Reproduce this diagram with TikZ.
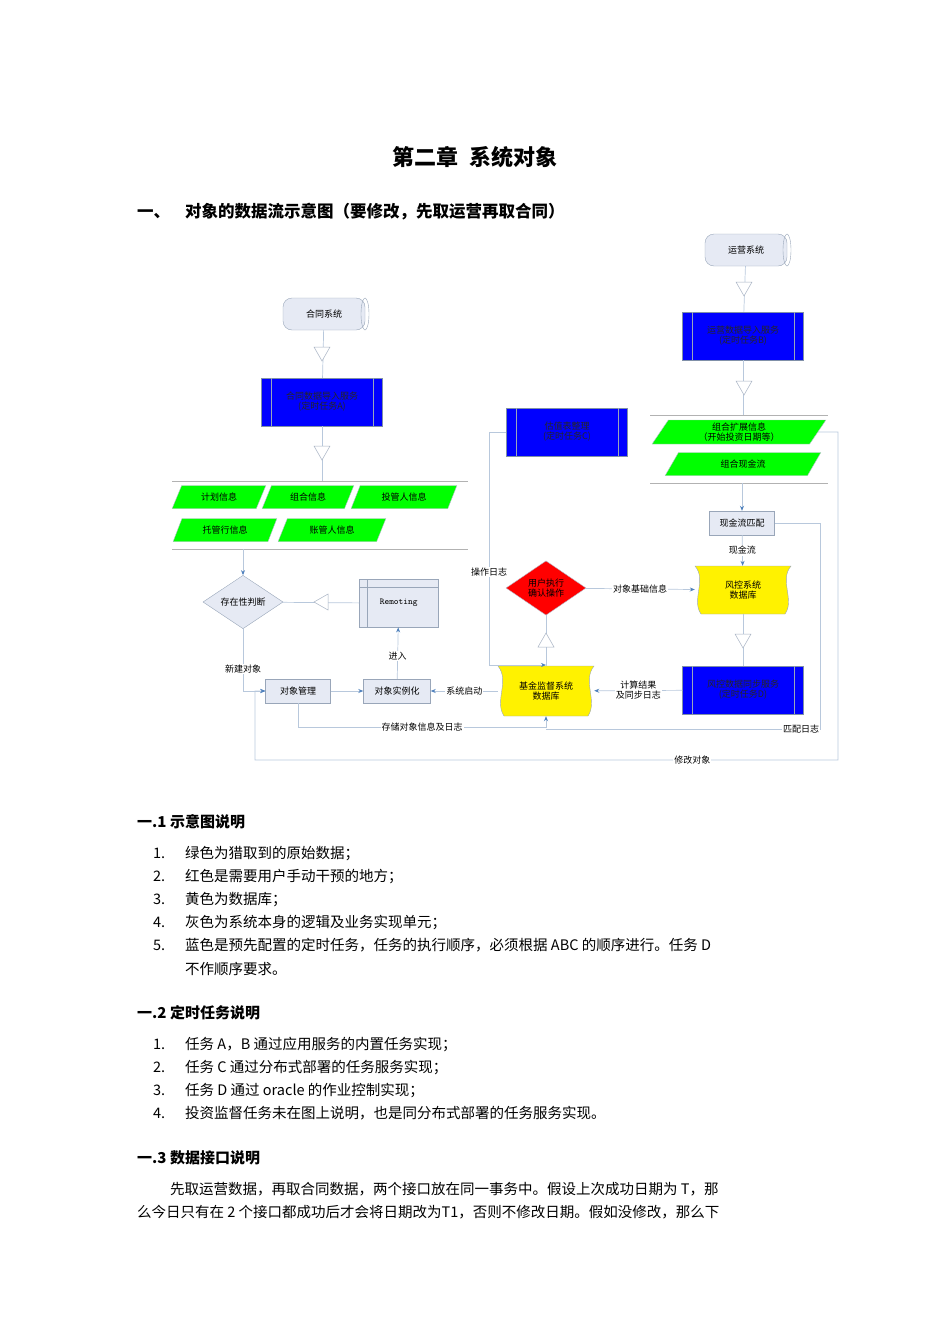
\documentclass[tikz,border=0pt]{standalone}
\usepackage{fontspec}
\setmainfont{Noto Sans CJK SC}
\usetikzlibrary{shapes.geometric,arrows.meta}
\definecolor{ln}{HTML}{B8C8DC}
\definecolor{arr}{HTML}{4F81BD}
\definecolor{gbox}{HTML}{E6EAF4}
\definecolor{bord}{HTML}{8090A8}
\tikzset{
 dg/.style={font=\fontsize{9}{10}\selectfont},
 cn/.style={draw=ln,line width=0.7pt},
 ca/.style={cn,-{Stealth[length=5pt,width=4pt,color=arr]}},
 tri/.style={draw=bord!70,fill=white,line width=0.5pt},
 bluebox/.style={dg,draw=bord,fill=blue,minimum width=121pt,minimum height=48pt,align=center,text=black!85,inner sep=1pt},
 graybox/.style={dg,draw=bord!80,fill=gbox,minimum height=24pt,inner sep=3pt},
 gpara/.style={dg,trapezium,trapezium left angle=65,trapezium right angle=115,trapezium stretches=true,draw=bord!60,fill=green,minimum height=23pt,align=center,inner sep=1pt},
 lbl/.style={dg,fill=white,inner sep=1pt},
 body/.style={font=\fontsize{14.5}{16}\selectfont,anchor=base west,inner sep=0pt},
 hd/.style={font=\fontsize{15}{16}\selectfont\bfseries,anchor=base west,inner sep=0pt}
}
\newcommand\tdn[2]{\draw[tri] ({#1-8},{#2-7})--({#1+8},{#2-7})--(#1,{#2+7})--cycle;}
\newcommand\tup[2]{\draw[tri] ({#1-8},{#2+7})--({#1+8},{#2+7})--(#1,{#2-7})--cycle;}
\newcommand\tlf[2]{\draw[tri] ({#1+7},{#2-8})--({#1+7},{#2+8})--({#1-7},#2)--cycle;}
\newcommand\drum[4]{%
 \node[dg,minimum width=83pt,minimum height=32pt] (#1) at (#2,#3) {#4};
 \draw[draw=bord!80,fill=gbox,rounded corners=9pt] ({#2-41},{#3-16}) rectangle ({#2+41},{#3+16});
 \draw[draw=bord!80] ({#2+41},#3) ellipse (4pt and 16pt);
 \node[dg] at (#2,#3) {#4};}
\newcommand\ydb[6]{% name x1 y1 x2 y2 text
 \draw[draw=bord!80,fill=yellow] (#2,#3) -- (#4,#3) .. controls ({#4-12},{(#3+#5)/2-10}) and ({#4+4},{(#3+#5)/2+10}) .. ({#4-6},#5) -- ({#2+6},#5) .. controls ({#2-4},{(#3+#5)/2+10}) and ({#2+12},{(#3+#5)/2-10}) .. (#2,#3) -- cycle;
 \node[dg,align=center,minimum width={#4-#2},minimum height={#5-#3}] (#1) at ({(#2+#4)/2},{(#3+#5)/2}) {#6};}
\begin{document}
\begin{tikzpicture}[x=1pt,y=-1pt]
\useasboundingbox (0,0) rectangle (950,1344);
% titles
\node[font=\fontsize{22}{24}\selectfont\bfseries] (title) at (475,157) {第二章\hspace{0.5em}系统对象};
\node[hd,font=\fontsize{16.5}{18}\selectfont\bfseries] (h1) at (137,217) {一、};
\node[hd,font=\fontsize{16.5}{18}\selectfont\bfseries] (h1t) at (185,217) {对象的数据流示意图（要修改，先取运营再取合同）};
% ---------- diagram ----------
\drum{hetong}{324}{314}{合同系统}
\node[bluebox] (taskA) at (322,402) {合同数据导入服务\\(定时任务A)};
\coordinate (gl1) at (322,481);
\draw[draw=gray!60] (172,481) -- (468,481);
\draw[draw=gray!60] (172,549) -- (468,549);
\node[gpara,minimum width=94pt] (g1) at (219,497) {计划信息};
\node[gpara,minimum width=92pt] (g2) at (308,497) {组合信息};
\node[gpara,minimum width=106pt] (g3) at (404,497) {投管人信息};
\node[gpara,minimum width=104pt] (g4) at (225,530) {托管行信息};
\node[gpara,minimum width=108pt] (g5) at (332,530) {账管人信息};
\draw[cn] (hetong) -- (taskA); \tdn{322}{354}
\draw[cn] (taskA) -- (gl1); \tdn{322}{453}
\coordinate (gl2) at (243,549);
\node[dg,diamond,draw=bord!80,fill=gbox,minimum width=80pt,minimum height=48pt,inner sep=0pt] (exist) at (243,602) {存在性判断};
\draw[ca] (gl2) -- (exist);
\node[dg,draw=bord!80,fill=gbox,minimum width=79pt,minimum height=48pt,anchor=north west] (remot) at (359,579) {\ttfamily Remoting};
\draw[draw=bord!80] (367,579) -- (367,627); \draw[draw=bord!80] (359,587) -- (438,587);
\draw[cn] (remot) -- (exist); \tlf{321}{602}
\node[graybox,minimum width=65pt] (objm) at (298,691) {对象管理};
\node[graybox,minimum width=67pt] (obji) at (397,691) {对象实例化};
\ydb{fundb}{498}{666}{594}{716}{基金监督系统\\数据库}
\node[bluebox] (taskD) at (743,690) {风控数据同步服务\\(定时任务D)};
\node[dg,diamond,draw=bord!60,fill=red,minimum width=80pt,minimum height=48pt,inner sep=0pt,align=center] (user) at (546,588) {用户执行\\确认操作};
\ydb{riskdb}{695}{566}{791}{614}{风控系统\\数据库}
\node[graybox,minimum width=65pt] (cfm) at (742,523) {现金流匹配};
\node[bluebox] (taskC) at (567,432) {估值表整理\\(定时任务C)};
\drum{yunying}{746}{250}{运营系统}
\node[bluebox] (taskB) at (743,336) {运营数据导入服务\\(定时任务B)};
\draw[draw=gray!60] (650,415) -- (828,415);
\draw[draw=gray!60] (650,483) -- (828,483);
\node[gpara,minimum width=174pt,minimum height=24pt] (g6) at (739,432) {组合扩展信息\\（开始投资日期等）};
\node[gpara,minimum width=156pt] (g7) at (743,464) {组合现金流};
\coordinate (gl3) at (743,415);
\coordinate (gl4) at (742,483);
% blue task inner lines
\foreach \n in {taskA,taskB,taskC,taskD}{\draw[draw=bord!80] ([xshift=10pt]\n.north west) -- ([xshift=10pt]\n.south west); \draw[draw=bord!80] ([xshift=-10pt]\n.north east) -- ([xshift=-10pt]\n.south east);}
% connectors
\draw[cn] (yunying) -- (taskB); \tdn{744}{289}
\draw[cn] (taskB) -- (gl3); \tdn{744}{388}
\draw[ca] (gl4) -- (cfm);
\draw[ca] (cfm) -- node[lbl] {现金流} (riskdb);
\draw[cn] (riskdb) -- (taskD); \tdn{743}{641}
\draw[ca] (user) -- node[lbl] {对象基础信息} (riskdb);
\draw[cn] (fundb) -- (user); \tup{546}{640}
\draw[ca] (taskD) -- node[lbl,align=center] {计算结果\\及同步日志} (fundb);
\draw[ca] (fundb) -- node[lbl] {系统启动} (obji);
\draw[ca] (objm) -- (obji);
\draw[ca] (obji) -- node[lbl,pos=0.45] {进入} (remot);
\draw[ca] (exist.south) -- node[lbl,pos=0.65] {新建对象} (243,691) -- (objm);
\draw[ca] (taskC.west) -- (489,432) -- node[lbl,pos=0.6] {操作日志} (489,665) -- (546,665);
\draw[ca] (objm.south) -- (298,727) -- node[lbl] {存储对象信息及日志} (546,727) -- (fundb.south);
\draw[cn] (cfm.east) -- (820,523) -- (820,729) -- (546,729);
\node[lbl] (ml) at (801,729) {匹配日志};
\draw[ca] (g6.east) -- (838,432) -- (838,760) -- node[lbl,pos=0.25] {修改对象} (255,760) -- (255,691) -- (objm.west);
% ---------- text ----------
\node[hd] (s1) at (137,827) {一.1 示意图说明};
\node[body] at (153,858) {1.}; \node[body] at (185,858) {绿色为猎取到的原始数据；};
\node[body] at (153,881) {2.}; \node[body] at (185,881) {红色是需要用户手动干预的地方；};
\node[body] at (153,904) {3.}; \node[body] at (185,904) {黄色为数据库；};
\node[body] at (153,927) {4.}; \node[body] at (185,927) {灰色为系统本身的逻辑及业务实现单元；};
\node[body] at (153,950) {5.}; \node[body] at (185,950) {蓝色是预先配置的定时任务，任务的执行顺序，必须根据 ABC 的顺序进行。任务 D};
\node[body] at (185,974) {不作顺序要求。};
\node[hd] (s2) at (137,1018) {一.2 定时任务说明};
\node[body] at (153,1049) {1.}; \node[body] at (185,1049) {任务 A，B 通过应用服务的内置任务实现；};
\node[body] at (153,1072) {2.}; \node[body] at (185,1072) {任务 C 通过分布式部署的任务服务实现；};
\node[body] at (153,1095) {3.}; \node[body] at (185,1095) {任务 D 通过 oracle 的作业控制实现；};
\node[body] at (153,1118) {4.}; \node[body] at (185,1118) {投资监督任务未在图上说明，也是同分布式部署的任务服务实现。};
\node[hd] (s3) at (137,1163) {一.3 数据接口说明};
\node[body] at (170,1194) {先取运营数据，再取合同数据，两个接口放在同一事务中。假设上次成功日期为 T，那};
\node[body] at (137,1217) {么今日只有在 2 个接口都成功后才会将日期改为T1，否则不修改日期。假如没修改，那么下};
\end{tikzpicture}
\end{document}
